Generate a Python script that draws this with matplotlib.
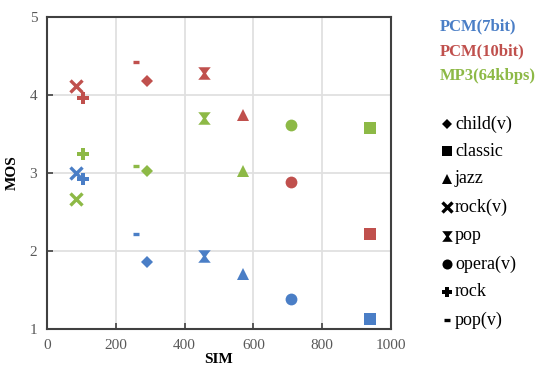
import matplotlib
matplotlib.use("Agg")
import matplotlib.pyplot as plt
from matplotlib.path import Path
from matplotlib.lines import Line2D

plt.rcParams['font.family'] = ['Liberation Serif', 'DejaVu Serif']

# Song categories (marker per category) and SIM values
songs = ["child(v)", "classic", "jazz", "rock(v)", "pop", "opera(v)", "rock", "pop(v)"]
sim = [290, 940, 571, 83, 458, 710, 106, 259]

# MOS per codec, same order as songs
series = ["PCM(7bit)", "PCM(10bit)", "MP3(64kbps)"]
mos_pcm7 = [1.86, 1.13, 1.70, 3.00, 1.93, 1.38, 2.93, 2.22]
mos_pcm10 = [4.18, 2.22, 3.75, 4.12, 4.28, 2.89, 3.96, 4.43]
mos_mp3 = [3.02, 3.58, 3.02, 2.67, 3.70, 3.61, 3.25, 3.09]
series_values = [mos_pcm7, mos_pcm10, mos_mp3]
colors = ["#4A7EC6", "#C0504D", "#8DB946"]

# hourglass-shaped marker for "pop"
hg = Path([(-1, 1), (1, 1), (0.55, 0.45), (0.25, 0), (0.55, -0.45), (1, -1),
           (-1, -1), (-0.55, -0.45), (-0.25, 0), (-0.55, 0.45), (-1, 1)],
          [Path.MOVETO] + [Path.LINETO] * 9 + [Path.CLOSEPOLY])

marker_style = {
    "child(v)": dict(marker="D", ms=6, mew=0),
    "classic": dict(marker="s", ms=8, mew=0),
    "jazz": dict(marker="^", ms=8, mew=0),
    "rock(v)": dict(marker="x", ms=8, mew=2.4, fill=False),
    "pop": dict(marker=hg, ms=9, mew=0),
    "opera(v)": dict(marker="o", ms=8.5, mew=0),
    "rock": dict(marker="P", ms=8.5, mew=0),
    "pop(v)": dict(marker="_", ms=5, mew=2.4, fill=False),
}

fig = plt.figure(figsize=(5.39, 3.70), dpi=100)
ax = fig.add_axes([0.0872, 0.1108, 0.638, 0.843])

for vals, c in zip(series_values, colors):
    for s, x, y in zip(songs, sim, vals):
        st = dict(marker_style[s])
        fill = st.pop("fill", True)
        if fill:
            ax.plot([x], [y], linestyle="none", color=c, markerfacecolor=c,
                    markeredgecolor=c, **st)
        else:
            ax.plot([x], [y], linestyle="none", color=c, markeredgecolor=c, **st)

ax.set_xlim(0, 1000)
ax.set_ylim(1, 5)
ax.set_xticks([0, 200, 400, 600, 800, 1000])
ax.set_yticks([1, 2, 3, 4, 5])
ax.grid(True, color="#E0E0E0", linewidth=1.3)
ax.set_axisbelow(True)
for sp in ax.spines.values():
    sp.set_color("#404040")
    sp.set_linewidth(1.5)
ax.tick_params(axis="both", direction="in", length=4, width=1.2, color="#404040",
               labelsize=11, labelcolor="#595959", pad=7)
ax.set_xlabel("SIM", fontsize=11, fontweight="bold", labelpad=1)
ax.set_ylabel("MOS", fontsize=11, fontweight="bold", labelpad=8)

# Custom legend on the right
for i, (name, c) in enumerate(zip(series, colors)):
    fig.text(440 / 539, 1 - (26 + 25 * i) / 370, name, color=c, fontsize=12,
             fontweight="bold", va="center", ha="left")

leg_y = [124, 151, 179, 207, 236, 264, 292, 320]
for s, yy in zip(songs, leg_y):
    st = dict(marker_style[s])
    st.pop("fill", None)
    ms = st.pop("ms") * 0.85
    yf = 1 - yy / 370
    fig.add_artist(Line2D([447 / 539], [yf], transform=fig.transFigure,
                          linestyle="none", color="black", markerfacecolor="black",
                          markeredgecolor="black", ms=ms, **st))
    fig.text(455 / 539, yf, s, fontsize=13, va="center", ha="left", color="black")

fig.savefig("out.png", dpi=100)
